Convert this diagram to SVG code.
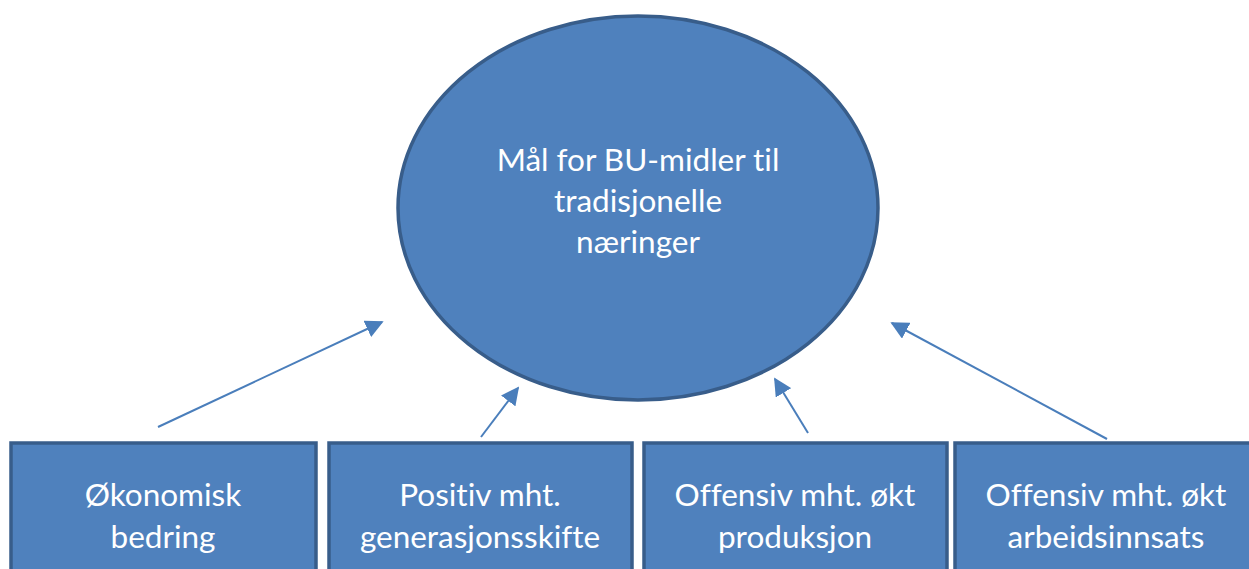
<svg xmlns="http://www.w3.org/2000/svg" width="1249" height="569" viewBox="0 0 1249 569">
<style>
.shape{fill:#4F81BD;stroke:#385D8A;stroke-width:3.5}
.t{fill:#FFFFFF;font-family:Lato,"Open Sans","Liberation Sans",sans-serif;font-size:31.5px;text-anchor:middle;font-variant-ligatures:none}
</style>
<defs>
<marker id="ah2" viewBox="0 0 10 10" refX="9" refY="5" markerWidth="18" markerHeight="18" markerUnits="userSpaceOnUse" orient="auto">
<path d="M0,0 L10,5 L0,10 z" fill="#4A7EBB"/>
</marker>
</defs>
<rect width="1249" height="569" fill="#FFFFFF"/>
<g id="connectors">
<line x1="158" y1="427" x2="382" y2="322" stroke="#4A7EBB" stroke-width="2" marker-end="url(#ah2)"/>
<line x1="481" y1="437" x2="518" y2="388" stroke="#4A7EBB" stroke-width="2" marker-end="url(#ah2)"/>
<line x1="808" y1="433" x2="775" y2="379" stroke="#4A7EBB" stroke-width="2" marker-end="url(#ah2)"/>
<line x1="1107" y1="439" x2="892" y2="323" stroke="#4A7EBB" stroke-width="2" marker-end="url(#ah2)"/>
</g>
<g id="goal">
<ellipse class="shape" cx="638" cy="208" rx="240" ry="192"/>
<text class="t" x="638" y="171">Mål for BU-midler til</text>
<text class="t" x="638" y="212">tradisjonelle</text>
<text class="t" x="638" y="253">næringer</text>
</g>
<g id="box1">
<rect class="shape" x="11" y="443" width="305" height="140"/>
<text class="t" x="163" y="506">Økonomisk</text>
<text class="t" x="163" y="548">bedring</text>
</g>
<g id="box2">
<rect class="shape" x="329" y="443" width="303" height="140"/>
<text class="t" x="480" y="506">Positiv mht.</text>
<text class="t" x="480" y="548">generasjonsskifte</text>
</g>
<g id="box3">
<rect class="shape" x="644" y="443" width="303" height="140"/>
<text class="t" x="795" y="506">Offensiv mht. økt</text>
<text class="t" x="795" y="548">produksjon</text>
</g>
<g id="box4">
<rect class="shape" x="955" y="443" width="303" height="140"/>
<text class="t" x="1106" y="506">Offensiv mht. økt</text>
<text class="t" x="1106" y="548">arbeidsinnsats</text>
</g>
</svg>
